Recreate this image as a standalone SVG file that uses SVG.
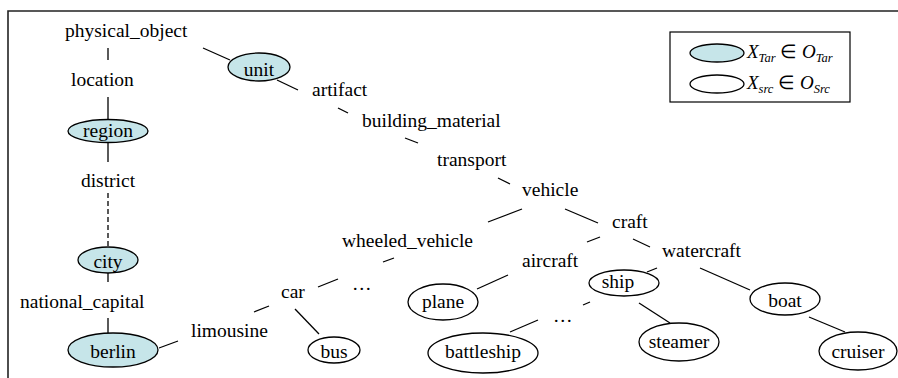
<svg xmlns="http://www.w3.org/2000/svg" width="898" height="378" viewBox="0 0 898 378">
<style>
text{font-family:"Liberation Serif","Times New Roman",Times,serif;font-size:19.5px;fill:#000}
.m{text-anchor:middle}
.t{fill:#c6e5e9;stroke:#000;stroke-width:1.3}
.s{fill:#fff;stroke:#000;stroke-width:1.3}
#connectors line{stroke:#000;stroke-width:1.3}
.d{stroke-dasharray:5,3}
.leg{font-size:19px}
</style>
<rect width="898" height="378" fill="#fff"/>
<path d="M8,378 V11 H898" fill="none" stroke="#222" stroke-width="1.6"/>
<g id="connectors">
<line x1="108" y1="48" x2="108" y2="60"/>
<line x1="108" y1="97" x2="108" y2="119"/>
<line x1="108" y1="143" x2="108" y2="162"/>
<line class="d" x1="108" y1="193" x2="108" y2="246"/>
<line x1="108" y1="273" x2="108" y2="282"/>
<line x1="108" y1="318" x2="108" y2="333"/>
<line x1="159" y1="348" x2="178" y2="341"/>
<line x1="254" y1="312" x2="269" y2="306"/>
<line x1="318" y1="287" x2="338" y2="279"/>
<line x1="383" y1="262" x2="394" y2="258"/>
<line x1="295" y1="309" x2="319" y2="334"/>
<line x1="203" y1="48" x2="230" y2="60"/>
<line x1="277" y1="80" x2="298" y2="90"/>
<line x1="338" y1="108" x2="348" y2="113"/>
<line x1="405" y1="138" x2="418" y2="143"/>
<line x1="498" y1="178" x2="510" y2="184"/>
<line x1="488" y1="222" x2="522" y2="209"/>
<line x1="565" y1="209" x2="598" y2="223"/>
<line x1="587" y1="242" x2="600" y2="237"/>
<line x1="633" y1="239" x2="650" y2="247"/>
<line x1="477" y1="289" x2="508" y2="275"/>
<line x1="510" y1="332" x2="538" y2="320"/>
<line x1="583" y1="305" x2="590" y2="302"/>
<line x1="647" y1="272" x2="657" y2="268"/>
<line x1="639" y1="303" x2="670" y2="323"/>
<line x1="700" y1="268" x2="750" y2="290"/>
<line x1="809" y1="317" x2="845" y2="332"/>
</g>
<g id="physical_object"><text x="65" y="37">physical_object</text></g>
<g id="location"><text x="71" y="86">location</text></g>
<g id="region"><ellipse class="t" cx="108" cy="131" rx="40" ry="11.5"/><text class="m" x="108" y="137">region</text></g>
<g id="district"><text class="m" x="108" y="187">district</text></g>
<g id="city"><ellipse class="t" cx="108" cy="260" rx="30" ry="13"/><text class="m" x="108" y="268">city</text></g>
<g id="national_capital"><text x="20" y="308">national_capital</text></g>
<g id="berlin"><ellipse class="t" cx="113" cy="350" rx="45" ry="17"/><text class="m" x="113" y="358">berlin</text></g>
<g id="limousine"><text x="191" y="337">limousine</text></g>
<g id="car"><text x="281" y="298">car</text></g>
<g id="dots1"><text x="352" y="290">…</text></g>
<g id="bus"><ellipse class="s" cx="334" cy="350" rx="26" ry="13"/><text class="m" x="334" y="358">bus</text></g>
<g id="unit"><ellipse class="t" cx="259" cy="67" rx="31" ry="14"/><text class="m" x="259" y="76">unit</text></g>
<g id="artifact"><text x="312" y="96">artifact</text></g>
<g id="building_material"><text x="362" y="127">building_material</text></g>
<g id="transport"><text x="437" y="166">transport</text></g>
<g id="vehicle"><text x="522" y="196">vehicle</text></g>
<g id="wheeled_vehicle"><text x="342" y="247">wheeled_vehicle</text></g>
<g id="craft"><text x="612" y="228">craft</text></g>
<g id="watercraft"><text x="662" y="257">watercraft</text></g>
<g id="aircraft"><text x="522" y="267">aircraft</text></g>
<g id="plane"><ellipse class="s" cx="443" cy="302" rx="35" ry="18"/><text class="m" x="443" y="308">plane</text></g>
<g id="ship"><ellipse class="s" cx="624" cy="283" rx="35" ry="13"/><text class="m" x="618" y="288">ship</text></g>
<g id="dots2"><text x="553" y="322">…</text></g>
<g id="battleship"><ellipse class="s" cx="483" cy="353" rx="55" ry="20"/><text class="m" x="483" y="358">battleship</text></g>
<g id="steamer"><ellipse class="s" cx="679" cy="342" rx="40" ry="19"/><text class="m" x="679" y="348">steamer</text></g>
<g id="boat"><ellipse class="s" cx="785" cy="299" rx="35" ry="16"/><text class="m" x="785" y="307">boat</text></g>
<g id="cruiser"><ellipse class="s" cx="858" cy="351" rx="39" ry="19"/><text class="m" x="858" y="358">cruiser</text></g>
<g id="legend">
<rect x="670" y="32" width="180" height="70" fill="#fff" stroke="#000" stroke-width="1.2"/>
<ellipse class="t" cx="717" cy="53" rx="27" ry="9"/>
<ellipse class="s" cx="717" cy="84" rx="27" ry="9"/>
<text class="leg" x="747" y="58"><tspan font-style="italic">X</tspan><tspan font-style="italic" font-size="12.5" dy="4">Tar</tspan><tspan dy="-4"> ∈ </tspan><tspan font-style="italic">O</tspan><tspan font-style="italic" font-size="12.5" dy="4">Tar</tspan></text>
<text class="leg" x="747" y="89"><tspan font-style="italic">X</tspan><tspan font-style="italic" font-size="12.5" dy="4">src</tspan><tspan dy="-4"> ∈ </tspan><tspan font-style="italic">O</tspan><tspan font-style="italic" font-size="12.5" dy="4">Src</tspan></text>
</g>
</svg>
